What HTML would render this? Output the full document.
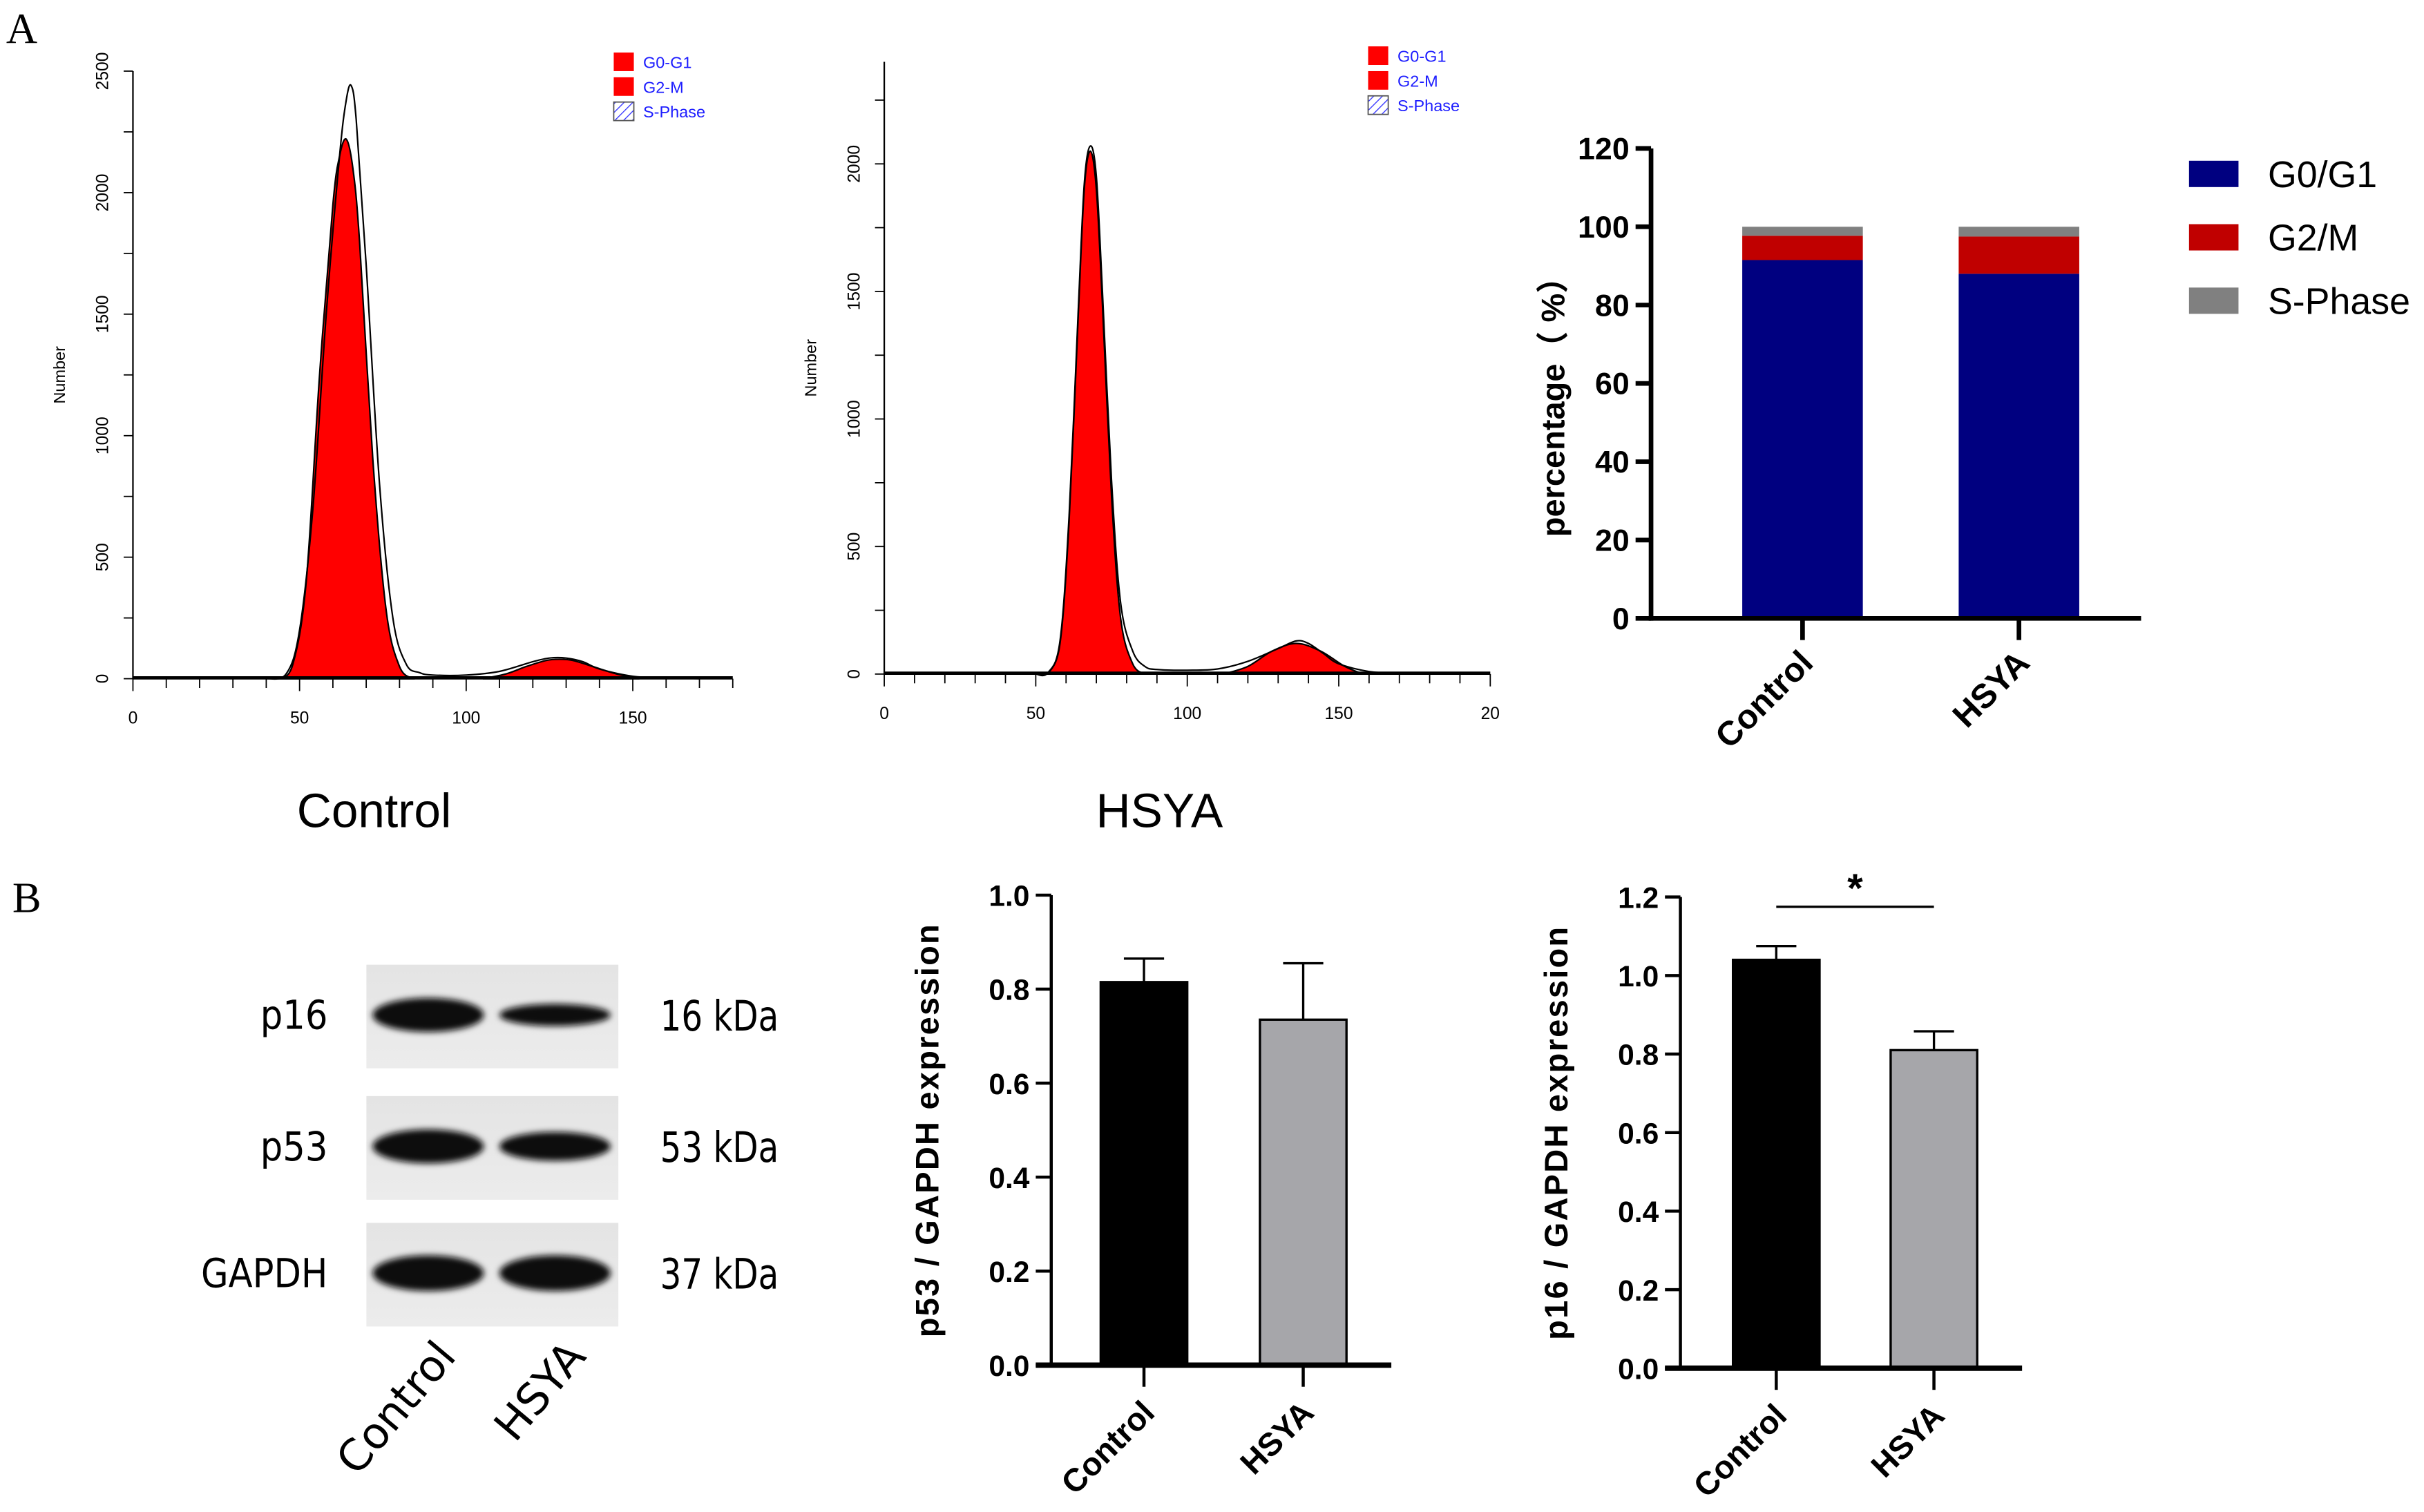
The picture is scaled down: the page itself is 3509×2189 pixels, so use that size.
<!DOCTYPE html>
<html><head><meta charset="utf-8"><style>
html,body{margin:0;padding:0;background:#fff}
svg{display:block}
text{font-family:"Liberation Sans","Noto Sans CJK SC",sans-serif}
</style></head><body>
<svg id="fig" xmlns="http://www.w3.org/2000/svg" width="3509" height="2189" viewBox="0 0 1568 978" preserveAspectRatio="none">
<defs>
<pattern id="hatch" width="4" height="4" patternUnits="userSpaceOnUse" patternTransform="rotate(45)"><line x1="0" y1="0" x2="0" y2="4" stroke="#33f" stroke-width="1.2"/></pattern>
<linearGradient id="blotbg" x1="0" y1="0" x2="0" y2="1"><stop offset="0" stop-color="#e4e4e4"/><stop offset="1" stop-color="#ececec"/></linearGradient>
<filter id="blur" x="-20%" y="-50%" width="140%" height="200%"><feGaussianBlur stdDeviation="2"/></filter>
</defs>
<text x="4" y="28" font-size="28" style="font-family:'Liberation Serif',serif">A</text>
<text x="8" y="590" font-size="28" style="font-family:'Liberation Serif',serif">B</text>
<g id="h1"></g>
<g id="h2"></g>
<text x="242" y="535" font-size="31" text-anchor="middle">Control</text>
<text x="750" y="535" font-size="31" text-anchor="middle">HSYA</text>
<g id="stack"></g>
<g id="blot"></g>
<g id="p53"></g>
<g id="p16"></g>
</svg>
<script>
// ---------- data ----------
const h1FillX=[44,48,52,56,60,62,64,66,68,72,76,80,84];
const h1FillY=[0,60,400,1250,1950,2150,2220,2100,1800,900,280,50,0];
const h1OutX=[40,46,50,54,58,62,64,65.5,67,70,74,78,82,86,90,100,110,120,125,130,135,140,150,160,170];
const h1OutY=[0,20,200,700,1500,2150,2380,2440,2300,1700,800,250,60,25,15,15,30,70,85,85,70,40,10,3,0];
const h1G2X=[105,112,118,124,128,132,138,145,152];
const h1G2Y=[0,20,50,75,80,75,50,20,0];
const h2FillX=[54,58,61,64,66,68,70,72,75,78,82,86];
const h2FillY=[0,120,600,1400,1900,2050,1900,1450,700,220,40,0];
const h2OutX=[50,54,58,61,64,66,68,70,72,75,78,82,86,90,100,110,120,130,136,140,145,150,160,170,180];
const h2OutY=[0,5,130,620,1420,1920,2070,1950,1500,760,280,90,30,18,15,20,50,100,130,120,80,40,10,3,0];
const h2G2X=[112,120,128,136,144,152,158];
const h2G2Y=[0,30,90,120,90,30,0];
const h1YTicks=["0","500","1000","1500","2000","2500"];
const h2YTicks=["0","500","1000","1500","2000"];
const h1XTicks=["0","50","100","150"];
const h2XTicks=["0","50","100","150","20"];
const groups=["Control","HSYA"];
const phases=["G0/G1","G2/M","S-Phase"];
const g0g1=[91.5,88.0];
const g2m=[6.2,9.5];
const sphase=[2.3,2.5];
const stackTicks=["0","20","40","60","80","100","120"];
const p53Mean=[0.815,0.735];
const p53Err=[0.05,0.12];
const p16Mean=[1.04,0.81];
const p16Err=[0.035,0.048];
const barTicks1=["0.0","0.2","0.4","0.6","0.8","1.0"];
const barTicks2=["0.0","0.2","0.4","0.6","0.8","1.0","1.2"];
const blotRows=["p16","p53","GAPDH"];
const blotKda=["16 kDa","53 kDa","37 kDa"];
const bandW=[[1.0,0.65],[1.0,0.85],[1.05,1.05]];

const NS="http://www.w3.org/2000/svg";
function mk(parent,tag,attrs,txt){const e=document.createElementNS(NS,tag);for(const k in attrs)e.setAttribute(k,attrs[k]);if(txt!==undefined)e.textContent=txt;parent.appendChild(e);return e;}
function smooth(pts){
  let d="";
  for(let i=0;i<pts.length-1;i++){
    const p0=pts[Math.max(0,i-1)],p1=pts[i],p2=pts[i+1],p3=pts[Math.min(pts.length-1,i+2)];
    const c1=[p1[0]+(p2[0]-p0[0])/6,p1[1]+(p2[1]-p0[1])/6];
    const c2=[p2[0]-(p3[0]-p1[0])/6,p2[1]-(p3[1]-p1[1])/6];
    d+=` C${c1[0]},${c1[1]} ${c2[0]},${c2[1]} ${p2[0]},${p2[1]}`;
  }
  return d;
}

function histogram(gid,o){
  const g=document.getElementById(gid);
  const sx=v=>o.x0+(v-o.xmin)*(o.x1-o.x0)/(o.xmax-o.xmin);
  const sy=v=>o.y0-(v)*(o.y0-o.y1)/o.ymax;
  function area(xs,ys,name){
    const pts=xs.map((x,i)=>[sx(x),sy(ys[i])]);
    let d="M"+pts[0][0]+","+pts[0][1]+smooth(pts)+"Z";
    const p=mk(g,"path",{d:d,fill:"#ff0000",stroke:"#000","stroke-width":"1"});
    
    
  }
  area(o.fx,o.fy,"g0-g1-peak");
  area(o.gx,o.gy,"g2-m-peak");
  const opts=o.ox.map((x,i)=>[sx(x),sy(o.oy[i])]);
  const ol=mk(g,"path",{d:"M"+opts[0][0]+","+opts[0][1]+smooth(opts),fill:"none",stroke:"#000","stroke-width":"1"});
  
  
  mk(g,"line",{x1:sx(0),y1:sy(0)-1,x2:sx(o.xmax),y2:sy(0)-1,stroke:"#000","stroke-width":"1.2"});
  const ya=mk(g,"line",{x1:o.x0,y1:o.y0,x2:o.x0,y2:sy(o.ymax),stroke:"#000","stroke-width":"1"});
  
  const xa=mk(g,"line",{x1:o.x0,y1:o.y0,x2:o.x1,y2:o.y0,stroke:"#000","stroke-width":"1"});
  
  for(let v=0;v<=o.ymax;v+=250){mk(g,"line",{x1:o.x0-6,y1:sy(v),x2:o.x0,y2:sy(v),stroke:"#000","stroke-width":"0.8"});}
  o.yt.forEach((t,i)=>{const y=sy(i*500);const e=mk(g,"text",{x:0,y:0,"font-size":"11","text-anchor":"middle",transform:`translate(${o.x0-16},${y}) rotate(-90)`},t);
    });
  for(let v=0;v<=o.xmax;v+=10){mk(g,"line",{x1:sx(v),y1:o.y0,x2:sx(v),y2:o.y0+(v%50===0?8:6),stroke:"#000","stroke-width":"0.8"});}
  o.xt.forEach((t,i)=>{const e=mk(g,"text",{x:sx(i*50),y:o.y0+29,"font-size":"11","text-anchor":"middle"},t);
    });
  const yl=mk(g,"text",{x:0,y:0,"font-size":"10.5","text-anchor":"middle",transform:`translate(${o.x0-44},${(o.y0+sy(o.ymax))/2}) rotate(-90)`},"Number");
  
  const lx=o.lx,ly=o.ly;
  const labs=["G0-G1","G2-M","S-Phase"];
  labs.forEach((l,i)=>{
    const r=mk(g,"rect",{x:lx,y:ly+i*16,width:13,height:12,fill:i<2?"#ff0000":"url(#hatch)",stroke:i<2?"none":"#555","stroke-width":"0.8"});
    
    const t=mk(g,"text",{x:lx+19,y:ly+i*16+10,"font-size":"10.5",fill:"#1c1cff"},l);
    
  });
}
histogram("h1",{x0:86,x1:474,xmin:0,xmax:180,y0:439,y1:46,ymax:2500,fx:h1FillX,fy:h1FillY,ox:h1OutX,oy:h1OutY,gx:h1G2X,gy:h1G2Y,yt:h1YTicks,xt:h1XTicks,lx:397,ly:34});
histogram("h2",{x0:572,x1:964,xmin:0,xmax:200,y0:436,y1:40,ymax:2400,fx:h2FillX,fy:h2FillY,ox:h2OutX,oy:h2OutY,gx:h2G2X,gy:h2G2Y,yt:h2YTicks,xt:h2XTicks,lx:885,ly:30});

// ---------- stacked bar ----------
(function(){
  const g=document.getElementById("stack");
  const x0=1068,y0=400,ytop=96,ymax=120;
  const sy=v=>y0-v*(y0-ytop)/ymax;
  const cx=[1166,1306],bw=78;
  const cols=["#000080","#c00000","#808080"];
  const series=[g0g1,g2m,sphase];
  groups.forEach((gr,i)=>{
    let acc=0;
    series.forEach((s,k)=>{
      const r=mk(g,"rect",{x:cx[i]-bw/2,y:sy(acc+s[i]),width:bw,height:sy(acc)-sy(acc+s[i]),fill:cols[k]});
      
      
      acc+=s[i];
    });
    mk(g,"line",{x1:cx[i],y1:y0,x2:cx[i],y2:y0+14,stroke:"#000","stroke-width":"3"});
    const t=mk(g,"text",{x:0,y:0,"font-size":"22","font-weight":"bold","text-anchor":"end",transform:`translate(${cx[i]+8},${y0+30}) rotate(-45)`},gr);
    
  });
  const ya=mk(g,"line",{x1:x0,y1:y0+1.5,x2:x0,y2:ytop,stroke:"#000","stroke-width":"3"});
  
  const xa=mk(g,"line",{x1:x0-1.5,y1:y0,x2:1385,y2:y0,stroke:"#000","stroke-width":"3"});
  
  stackTicks.forEach((t,i)=>{const y=sy(i*20);mk(g,"line",{x1:x0-10,y1:y,x2:x0,y2:y,stroke:"#000","stroke-width":"3"});
    const e=mk(g,"text",{x:x0-14,y:y+7,"font-size":"20","font-weight":"bold","text-anchor":"end"},t);
    });
  const yl=mk(g,"text",{x:0,y:0,"font-size":"21","font-weight":"bold","text-anchor":"middle",transform:`translate(1012,${(y0+ytop)/2+10}) rotate(-90)`},"percentage（ %）");
  
  phases.forEach((p,k)=>{
    const r=mk(g,"rect",{x:1416,y:104+k*41,width:32,height:17,fill:cols[k]});
    
    const t=mk(g,"text",{x:1467,y:121+k*41,"font-size":"24"},p);
    
  });
})();

// ---------- blot ----------
(function(){
  const g=document.getElementById("blot");
  const tops=[624,709,791],h=67;
  blotRows.forEach((r,i)=>{
    const b=mk(g,"rect",{x:237,y:tops[i],width:163,height:h,fill:"url(#blotbg)"});
    
    const cy=tops[i]+h/2-1;
    [[277,bandW[i][0]],[359,bandW[i][1]]].forEach(([cx,w],j)=>{
      const e=mk(g,"ellipse",{cx:cx,cy:cy,rx:36,ry:11*w,fill:"#0a0a0a",filter:"url(#blur)"});
      
    });
    const t=mk(g,"text",{x:212,y:cy+9,"font-size":"26","text-anchor":"end",transform:`translate(${212*0.12},0) scale(0.88,1)`,style:"font-family:'DejaVu Sans',sans-serif"},r);
    
    const k=mk(g,"text",{x:427,y:cy+10,"font-size":"27",transform:`translate(${427*0.2},0) scale(0.8,1)`,style:"font-family:'DejaVu Sans',sans-serif"},blotKda[i]);
    
  });
  groups.forEach((gr,j)=>{
    const t=mk(g,"text",{x:0,y:0,"font-size":"28","text-anchor":"end",transform:`translate(${j?380:296},${878}) rotate(-50)`,style:"font-family:'DejaVu Sans',sans-serif"},gr);
    
  });
})();

// ---------- bar charts ----------
function barChart(gid,o){
  const g=document.getElementById(gid);
  const sy=v=>o.y0-v*o.ppu;
  const cols=["#000","#a6a6aa"];
  groups.forEach((gr,i)=>{
    const cx=o.cx[i];
    const el=mk(g,"line",{x1:cx,y1:sy(o.mean[i]),x2:cx,y2:sy(o.mean[i]+o.err[i]),stroke:"#000","stroke-width":"1.5"});
    
    mk(g,"line",{x1:cx-13,y1:sy(o.mean[i]+o.err[i]),x2:cx+13,y2:sy(o.mean[i]+o.err[i]),stroke:"#000","stroke-width":"1.5"});
    const r=mk(g,"rect",{x:cx-28,y:sy(o.mean[i]),width:56,height:sy(0)-sy(o.mean[i]),fill:cols[i],stroke:"#000","stroke-width":"1.5"});
    
    mk(g,"line",{x1:cx,y1:o.y0,x2:cx,y2:o.y0+14,stroke:"#000","stroke-width":"2"});
    const t=mk(g,"text",{x:0,y:0,"font-size":"21","font-weight":"bold","text-anchor":"end",transform:`translate(${cx+8},${o.y0+32}) rotate(-45)`},gr);
    
  });
  const ytop=sy((o.ticks.length-1)*0.2);
  const ya=mk(g,"line",{x1:o.x0,y1:o.y0,x2:o.x0,y2:ytop,stroke:"#000","stroke-width":"2"});
  
  const xa=mk(g,"line",{x1:o.x0-10,y1:o.y0,x2:o.xend,y2:o.y0,stroke:"#000","stroke-width":"3.5"});
  
  o.ticks.forEach((t,i)=>{const y=sy(i*0.2);mk(g,"line",{x1:o.x0-10,y1:y,x2:o.x0,y2:y,stroke:"#000","stroke-width":"2"});
    const e=mk(g,"text",{x:o.x0-14,y:y+7,"font-size":"19","font-weight":"bold","text-anchor":"end"},t);
    });
  const yl=mk(g,"text",{x:0,y:0,"font-size":"21","font-weight":"bold","text-anchor":"middle","letter-spacing":"1",transform:`translate(${o.x0-73},${(o.y0+ytop)/2}) rotate(-90)`},o.title);
  
  if(o.sig){
    const s=mk(g,"line",{x1:o.cx[0],y1:sy(o.sig),x2:o.cx[1],y2:sy(o.sig),stroke:"#000","stroke-width":"1.5"});
    
    const st=mk(g,"text",{x:(o.cx[0]+o.cx[1])/2,y:sy(o.sig)-3,"font-size":"26","font-weight":"bold","text-anchor":"middle"},"*");
    
  }
}
barChart("p53",{x0:680,y0:883,ppu:304,cx:[740,843],xend:900,mean:p53Mean,err:p53Err,ticks:barTicks1,title:"p53 / GAPDH expression"});
barChart("p16",{x0:1087,y0:885,ppu:254,cx:[1149,1251],xend:1308,mean:p16Mean,err:p16Err,ticks:barTicks2,title:"p16 / GAPDH expression",sig:1.175});
</script>
</body></html>
